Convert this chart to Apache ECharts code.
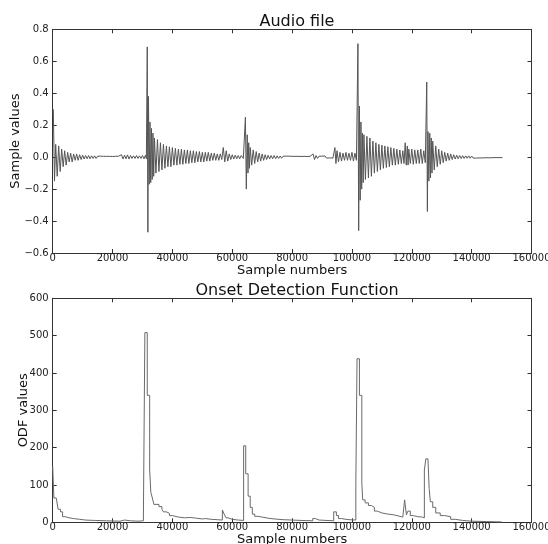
<!DOCTYPE html>
<html><head><meta charset="utf-8">
<script src="https://cdn.jsdelivr.net/npm/echarts@6/dist/echarts.min.js"></script>
<style>html,body{margin:0;padding:0;background:#fff}#c{width:548px;height:544px}</style>
</head><body><div id="c"></div>
<script>
// Audio waveform: envelope (upper / lower peak) read at sample positions
const waveX = [200,1000,2000,3000,4000,5000,6000,7000,8000,9000,10000,11000,12000,13000,14000,15000,16000,17000,18000,19000,20000,21000,22000,23000,24000,25000,26000,27000,28000,29000,30000,31000,31600,32000,32500,33000,33500,34000,35000,36000,37000,38000,39000,40000,41000,42000,43000,44000,45000,46000,47000,48000,49000,50000,51000,52000,53000,54000,55000,56000,57000,58000,59000,60000,61000,62000,63000,64400,65000,65500,66000,67000,68000,69000,70000,71000,72000,73000,74000,75000,76000,77000,78000,79000,80000,81000,82000,83000,84000,85000,86000,87000,88000,89000,90000,91000,92000,93000,94300,95000,96000,97000,98000,99000,100000,101000,102000,102500,103000,103500,104000,105000,106000,107000,108000,109000,110000,111000,112000,113000,114000,115000,116000,117000,117800,118500,119000,120000,121000,122000,123000,124000,125000,125400,126000,126500,127000,128000,129000,130000,131000,132000,133000,134000,135000,136000,137000,138000,139000,140000,141000,142000,143000,144000,145000,146000,147000,148000,149000,150000];
const waveHi = [.30,.08,.07,.05,.04,.03,.025,.02,.02,.015,.012,.01,.01,.008,.008,.006,.006,.005,.005,.005,.004,.005,.006,.015,.012,.014,.01,.008,.01,.008,.01,.012,.69,.38,.22,.18,.15,.12,.11,.09,.08,.07,.065,.06,.055,.05,.05,.045,.045,.04,.04,.035,.035,.03,.03,.03,.025,.025,.02,.02,.06,.04,.02,.015,.012,.01,.01,.25,.14,.09,.06,.045,.035,.025,.02,.015,.012,.01,.01,.008,.007,.006,.006,.006,.005,.005,.005,.004,.005,.004,.005,.02,.01,.006,.006,.007,.006,.007,.06,.04,.03,.025,.03,.025,.03,.025,.71,.32,.22,.15,.14,.13,.12,.10,.09,.08,.075,.07,.065,.06,.055,.05,.045,.04,.09,.07,.05,.05,.045,.045,.05,.04,.47,.16,.15,.12,.10,.07,.05,.04,.03,.025,.02,.015,.012,.01,.009,.008,.008,.007,.006,.006,.005,.005,.004,.004,.004,.003,.003,.003];
const waveLo = [-.15,-.12,-.09,-.06,-.05,-.03,-.03,-.02,-.02,-.015,-.012,-.01,-.01,-.008,-.008,-.006,-.006,-.005,-.005,-.005,-.004,-.005,-.006,-.012,-.01,-.012,-.008,-.008,-.008,-.008,-.01,-.01,-.47,-.17,-.16,-.14,-.12,-.10,-.09,-.08,-.07,-.06,-.06,-.05,-.05,-.045,-.045,-.04,-.04,-.035,-.035,-.03,-.03,-.03,-.025,-.025,-.02,-.02,-.02,-.015,-.03,-.025,-.015,-.012,-.01,-.01,-.008,-.20,-.10,-.07,-.05,-.04,-.03,-.025,-.02,-.015,-.012,-.01,-.01,-.008,-.007,-.006,-.006,-.005,-.005,-.005,-.004,-.004,-.004,-.004,-.004,-.015,-.008,-.006,-.005,-.006,-.005,-.006,-.04,-.03,-.025,-.02,-.02,-.02,-.025,-.02,-.46,-.27,-.20,-.16,-.14,-.13,-.12,-.10,-.09,-.08,-.07,-.065,-.06,-.05,-.05,-.045,-.04,-.04,-.05,-.05,-.04,-.045,-.04,-.04,-.04,-.035,-.34,-.15,-.13,-.10,-.08,-.06,-.045,-.035,-.025,-.02,-.015,-.012,-.01,-.009,-.008,-.007,-.007,-.006,-.006,-.005,-.005,-.004,-.004,-.004,-.003,-.003,-.003,-.003];

// Onset detection function: level start positions and step values
const odfX = [0,400,1200,1800,2600,3300,4200,5500,7000,9000,11000,14000,18000,22500,24000,26000,28500,30300,30800,31600,32400,32800,33300,33800,35500,36500,37000,38000,39000,40000,42000,44000,46000,48000,50000,51000,53000,55000,56700,57300,57900,58600,60000,62000,63800,64500,65300,66000,66700,67500,68500,70000,72000,74000,77000,80000,83000,86900,87800,89000,93900,94800,95500,96500,98000,99000,101300,101700,102500,103300,103600,104400,105500,106500,107500,108500,110000,112000,114000,115500,117000,117600,118200,118700,119500,120500,122000,123500,124200,124700,125400,125800,126200,127000,128000,129500,131000,133000,134500,137000,140000,145000,150000];
const odfY = [150,65,60,35,28,15,12,10,8,6,5,4,3,6,4,3,4,6,508,340,140,80,65,48,42,35,28,24,18,14,12,13,11,9,10,8,7,6,33,22,12,8,6,5,205,130,70,40,22,16,14,11,9,7,6,5,4,10,6,4,28,18,10,8,7,6,105,438,340,105,60,52,45,40,30,25,22,20,17,14,10,60,20,30,18,15,14,12,140,170,175,90,55,40,25,18,15,8,5,3,2,1,0];

const xTicks = {min: 0, max: 160000, interval: 20000};
const topY = {min: -0.6, max: 0.8, interval: 0.2};
const botY = {min: 0, max: 600, interval: 100};

const waveData = [];
for (let i = 0; i < waveX.length; i++) {
  waveData.push([waveX[i], waveHi[i]]);
  const nx = i + 1 < waveX.length ? (waveX[i] + waveX[i + 1]) / 2 : waveX[i] + 300;
  waveData.push([nx, waveLo[i]]);
}
const odfData = odfX.map((x, i) => [x, odfY[i]]);

const FONT = 'DejaVu Sans';
const frame = {show: true, lineStyle: {color: '#333', width: 1}};
const tickIn = {show: true, inside: true, length: 4, lineStyle: {color: '#333'}};
const lbl = {color: '#222', fontFamily: FONT, fontSize: 10};
const fmtTop = v => (v < -1e-9 ? '\u2212' : '') + Math.abs(v).toFixed(1);

function xMain(grid) {
  return {type: 'value', gridIndex: grid, ...xTicks, position: 'bottom',
    axisLine: {...frame, onZero: false}, axisTick: tickIn, splitLine: {show: false},
    axisLabel: {...lbl, margin: 0, showMaxLabel: true, formatter: v => String(Math.round(v))},
    name: 'Sample numbers', nameLocation: 'middle', nameGap: 11, nameMoveOverlap: false,
    nameTextStyle: {color: '#111', fontFamily: FONT, fontSize: 13}};
}
function xTop(grid) {
  return {type: 'value', gridIndex: grid, ...xTicks, position: 'top',
    axisLine: {...frame, onZero: false}, axisTick: tickIn, axisLabel: {show: false}, splitLine: {show: false}};
}
function yRight(grid, r) {
  return {type: 'value', gridIndex: grid, ...r, position: 'right',
    axisLine: {...frame, onZero: false}, axisTick: tickIn, axisLabel: {show: false}, splitLine: {show: false}};
}

const chart = echarts.init(document.getElementById('c'), null, {renderer: 'canvas'});
chart.setOption({
  animation: false,
  backgroundColor: '#fff',
  title: [
    {text: 'Audio file', left: 292, top: 9, textAlign: 'center',
      textStyle: {fontFamily: FONT, fontSize: 16, fontWeight: 'normal', color: '#111'}},
    {text: 'Onset Detection Function', left: 292, top: 278, textAlign: 'center',
      textStyle: {fontFamily: FONT, fontSize: 16, fontWeight: 'normal', color: '#111'}}
  ],
  grid: [
    {left: 52.7, right: 16.5, top: 29.3, height: 223.7, containLabel: false, outerBoundsMode: 'none'},
    {left: 52.7, right: 16.5, top: 298.3, height: 224, containLabel: false, outerBoundsMode: 'none'}
  ],
  xAxis: [xMain(0), xTop(0), xMain(1), xTop(1)],
  yAxis: [
    {type: 'value', gridIndex: 0, ...topY, axisLine: {...frame, onZero: false}, axisTick: tickIn,
      splitLine: {show: false}, axisLabel: {...lbl, margin: 4, formatter: fmtTop},
      name: 'Sample values', nameLocation: 'middle', nameGap: 31, nameRotate: 90, nameMoveOverlap: false,
      nameTextStyle: {color: '#111', fontFamily: FONT, fontSize: 13}},
    yRight(0, topY),
    {type: 'value', gridIndex: 1, ...botY, axisLine: {...frame, onZero: false}, axisTick: tickIn,
      splitLine: {show: false}, axisLabel: {...lbl, margin: 4},
      name: 'ODF values', nameLocation: 'middle', nameGap: 23, nameRotate: 90, nameMoveOverlap: false,
      nameTextStyle: {color: '#111', fontFamily: FONT, fontSize: 13}},
    yRight(1, botY)
  ],
  series: [
    {type: 'line', xAxisIndex: 0, yAxisIndex: 0, data: waveData, showSymbol: false,
      lineStyle: {color: '#555', width: 1}, silent: true},
    {type: 'line', xAxisIndex: 2, yAxisIndex: 2, data: odfData, step: 'end', showSymbol: false,
      lineStyle: {color: '#6a6a6a', width: 1}, silent: true}
  ]
});
</script></body></html>
